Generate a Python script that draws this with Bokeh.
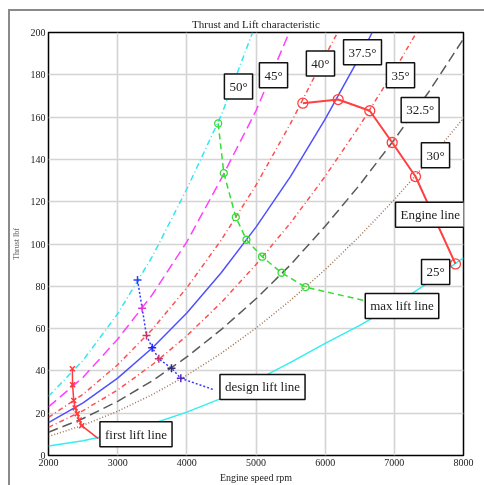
from bokeh.plotting import figure
from bokeh.models import Range1d, Label, FixedTicker, LinearAxis, Title
from bokeh.embed import file_html
from bokeh.resources import INLINE

# ---------------- data ----------------
title_text = "Thrust and Lift characteristic"
x_label = "Engine speed rpm"
y_label = "Thrust lbf"
x_ticks = [2000, 3000, 4000, 5000, 6000, 7000, 8000]
y_ticks = [0, 20, 40, 60, 80, 100, 120, 140, 160, 180, 200]

# pitch-angle curves (rpm, thrust lbf)
rpm_50 = [2000, 2500, 3000, 3500, 4000, 4500, 4950]
thr_50 = [28, 45, 67, 94, 126, 161, 200]
rpm_45 = [2000, 2500, 3000, 3500, 4000, 4500, 5000, 5480]
thr_45 = [23, 37, 55, 76, 101, 131, 163, 200]
rpm_40 = [2000, 2500, 3000, 3500, 4000, 4500, 5000, 5500, 6000, 6180]
thr_40 = [18, 29, 42.9, 59.6, 79.3, 102, 127.8, 157, 189, 200]
rpm_375 = [2000, 2500, 3000, 3500, 4000, 4500, 5000, 5500, 6000, 6500, 6680]
thr_375 = [15.5, 24.9, 36.6, 50.8, 67.4, 86.5, 108, 132, 159, 188.6, 200]
rpm_35 = [2000, 2500, 3000, 3500, 4000, 4500, 5000, 5500, 6000, 6500, 7000, 7320]
thr_35 = [13.3, 21.2, 31, 42.9, 56.6, 72.4, 90.3, 110, 132, 156, 182, 200]
rpm_325 = [2000, 2500, 3000, 3500, 4000, 4500, 5000, 5500, 6000, 6500, 7000, 7500, 8000]
thr_325 = [11, 17.5, 25.6, 35.3, 46.6, 59.6, 74.1, 90.2, 108.4, 128, 149.4, 172, 197]
rpm_30 = [2000, 2500, 3000, 3500, 4000, 4500, 5000, 5500, 6000, 6500, 7000, 7500, 8000]
thr_30 = [9, 14.3, 20.9, 28.8, 37.9, 48.4, 60.2, 73.4, 87.9, 103.8, 121, 139.6, 159.5]
rpm_25 = [2000, 2500, 3000, 3500, 4000, 4500, 5000, 5500, 6000, 6500, 7000, 7500, 8000]
thr_25 = [4.5, 7, 10.5, 15, 20.5, 27, 35.5, 44, 53, 61.5, 71, 82, 93.5]

# characteristic lines
engine_rpm = [5677, 6188, 6645, 6969, 7306, 7884]
engine_thr = [166.6, 168.3, 163, 148, 131.9, 90.6]
maxlift_rpm = [4453, 4535, 4708, 4862, 5089, 5369, 5716, 6600]
maxlift_thr = [157, 133.5, 112.7, 102, 94, 86.4, 79.6, 73]
design_rpm = [3287, 3354, 3417, 3499, 3595, 3778, 3913, 4400]
design_thr = [83, 69.6, 56.7, 51, 45.7, 41.3, 36.5, 31]
first_rpm = [2345, 2348, 2365, 2385, 2415, 2445, 2480, 2720]
first_thr = [41, 33.5, 26, 22.5, 19.7, 16.8, 14.1, 8]

SERIF = "Liberation Serif"

p = figure(frame_width=415, frame_height=423, output_backend="svg", toolbar_location=None,
           x_range=Range1d(2000, 8000), y_range=Range1d(0, 200),
           min_border_left=38, min_border_right=30, min_border_top=23, min_border_bottom=5,
           title=None)
p.styles = {"box-shadow": "inset 2px 2px 0 0 #8a8a8a", "position": "fixed",
            "top": "9px", "left": "8px"}
p.border_fill_alpha = 0

xax = p.xaxis[0]
yax = p.yaxis[0]

for ax in (xax, yax):
    ax.axis_line_color = None
    ax.major_tick_line_color = None
    ax.minor_tick_line_color = None
    ax.major_tick_out = 0
    ax.major_tick_in = 0
    ax.minor_tick_out = 0
    ax.minor_tick_in = 0
    ax.major_label_text_font = SERIF
    ax.major_label_text_font_size = "10px"
    ax.major_label_text_color = "#222222"
    ax.axis_label_text_font = SERIF
    ax.axis_label_text_font_style = "normal"

xax.ticker = FixedTicker(ticks=x_ticks)
yax.ticker = FixedTicker(ticks=y_ticks)
xax.axis_label = x_label
xax.axis_label_text_font_size = "10px"
xax.axis_label_text_color = "#222222"
xax.major_label_standoff = 3
xax.axis_label_standoff = 3
yax.axis_label = y_label
yax.axis_label_text_font_size = "8px"
yax.axis_label_text_color = "#666666"
yax.major_label_standoff = 3
yax.axis_label_standoff = 7

title = Title(text=title_text, align="center", text_font=SERIF, text_font_size="11px",
              text_font_style="normal", text_color="#222222", standoff=5)
p.add_layout(title, "above")
# blank spacer panel above the title
spacer = LinearAxis(ticker=FixedTicker(ticks=[]), axis_line_color=None,
                    major_tick_line_color=None, minor_tick_line_color=None,
                    major_tick_out=5, major_tick_in=0, minor_tick_out=0, minor_tick_in=0,
                    major_label_standoff=0, major_label_text_font_size="1px")
p.add_layout(spacer, "above")

p.outline_line_color = "black"
p.outline_line_width = 1.5
p.background_fill_color = "white"

p.xgrid.grid_line_color = "#d4d4d4"
p.ygrid.grid_line_color = "#d4d4d4"
p.xgrid.grid_line_width = 1.6
p.ygrid.grid_line_width = 1.6

lw = 1.5
p.line(rpm_25, thr_25, line_color="#33eef0", line_width=lw)
p.line(rpm_30, thr_30, line_color="#a07455", line_width=lw, line_dash="1 2")
p.line(rpm_325, thr_325, line_color="#5a5a5a", line_width=lw, line_dash="10 5")
p.line(rpm_35, thr_35, line_color="#ff5050", line_width=lw, line_dash="5 3 1 3")
p.line(rpm_375, thr_375, line_color="#5050ff", line_width=lw)
p.line(rpm_40, thr_40, line_color="#ff5050", line_width=lw, line_dash="5 3 1 3")
p.line(rpm_45, thr_45, line_color="#ff40ff", line_width=lw, line_dash="10 5")
p.line(rpm_50, thr_50, line_color="#33e6f0", line_width=lw, line_dash="6 3 1 3")

# characteristic lines
p.line(first_rpm, first_thr, line_color="#ff3a3a", line_width=1.5)
p.scatter(first_rpm[:-1], first_thr[:-1], marker="x", size=7, line_color="#ff3a3a", line_width=1.5)

design_colors = ["#3a3aff", "#e030e0", "#c83070", "#2020ff", "#c83070", "#303070", "#5028c0"]
p.line(design_rpm, design_thr, line_color="#3a3aff", line_width=1.5, line_dash="2 2")
p.scatter(design_rpm[:-1], design_thr[:-1], marker="cross", size=8, line_color=design_colors, line_width=1.5)

p.line(maxlift_rpm, maxlift_thr, line_color="#33dd33", line_width=1.5, line_dash="6 4")
p.scatter(maxlift_rpm[:-1], maxlift_thr[:-1], marker="circle", size=7, line_color="#33dd33",
          fill_color=None, line_width=1.3)

p.line(engine_rpm, engine_thr, line_color="#ff4040", line_width=2)
p.scatter(engine_rpm, engine_thr, marker="circle", size=10, line_color="#ff4040",
          fill_color=None, line_width=1.3)

labels = [
    ("50°", 4747, 174.5), ("45°", 5253, 179.8), ("40°", 5932, 185.3),
    ("37.5°", 6540, 190.7), ("35°", 7089, 179.8), ("32.5°", 7373, 163.4),
    ("30°", 7595, 142), ("Engine line", 7520, 113.8), ("25°", 7597, 86.8),
    ("max lift line", 7111, 70.7), ("design lift line", 5094, 32.4),
    ("first lift line", 3265, 10),
]
for txt, lx, ly in labels:
    p.add_layout(Label(x=lx, y=ly, text=txt, text_align="center", text_baseline="middle",
                       text_font=SERIF, text_font_size="13px", text_color="#222222",
                       background_fill_color="white", border_line_color="#111111",
                       border_line_width=1.5, padding=5))

open("out.html", "w").write(file_html(p, INLINE))
